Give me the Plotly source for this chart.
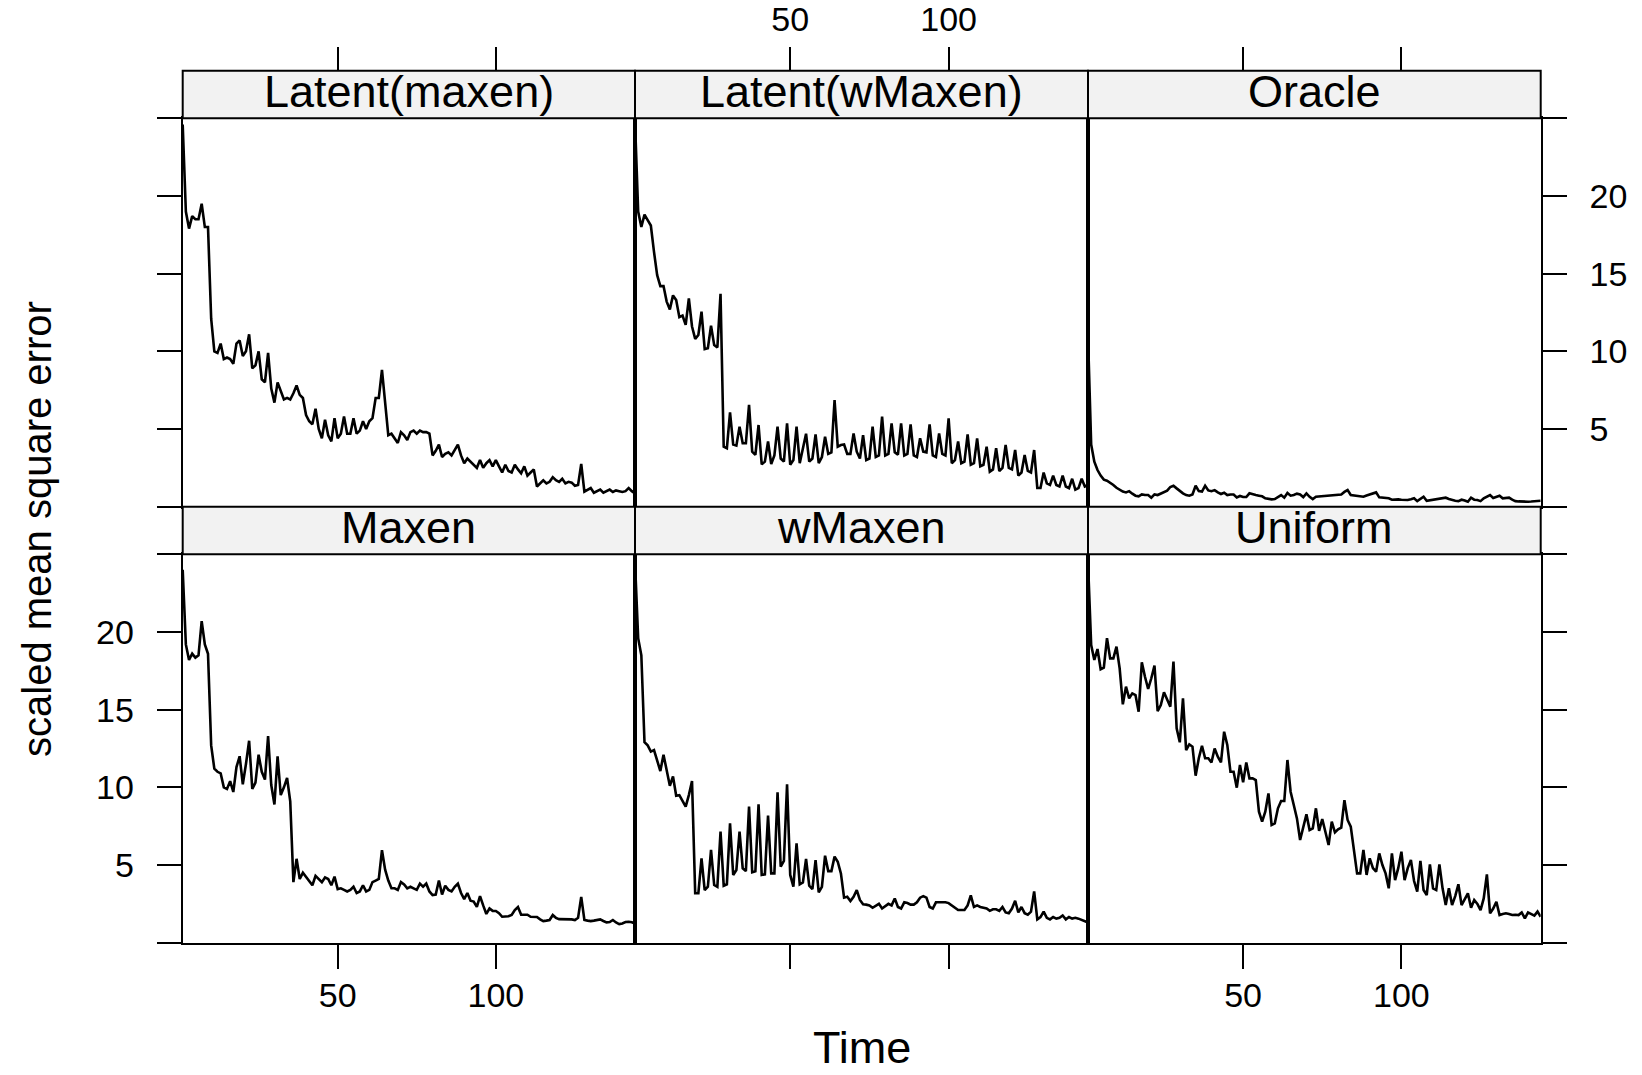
import plotly.graph_objects as go

# ---------------- data ----------------
time = list(range(1, 145))
panel_names = ["Latent(maxen)", "Latent(wMaxen)", "Oracle", "Maxen", "wMaxen", "Uniform"]

latent_maxen = [
    24.6, 19.0, 17.9, 18.7, 18.5, 18.5, 19.5, 18.0, 18.0, 12.1,
    10.0, 9.9, 10.5, 9.5, 9.6, 9.5, 9.2, 10.5, 10.7, 9.7,
    10.0, 11.1, 8.9, 9.1, 10.0, 8.2, 8.0, 9.9, 7.6, 6.7,
    8.0, 7.4, 6.9, 7.0, 6.9, 7.3, 7.8, 7.2, 7.0, 5.9,
    5.5, 5.3, 6.3, 5.0, 4.4, 5.6, 4.6, 4.2, 5.7, 4.4,
    4.7, 5.8, 4.7, 4.7, 5.7, 4.7, 4.9, 5.5, 5.0, 5.5,
    5.7, 7.0, 7.0, 8.8, 6.5, 4.6, 4.7, 4.4, 4.1, 4.8,
    4.6, 4.3, 4.8, 4.9, 4.7, 4.9, 4.8, 4.8, 4.7, 3.3,
    3.6, 4.0, 3.2, 3.4, 3.5, 3.3, 3.7, 4.0, 3.3, 2.8,
    3.1, 2.9, 2.7, 2.5, 3.0, 2.5, 2.8, 3.0, 2.6, 3.0,
    2.6, 2.2, 2.7, 2.3, 2.2, 2.7, 2.4, 2.15, 2.6, 2.0,
    2.2, 2.4, 1.3, 1.5, 1.7, 1.5, 1.6, 1.9, 1.7, 1.6,
    1.8, 1.5, 1.6, 1.55, 1.35, 1.4, 2.75, 0.97, 1.1, 1.2,
    0.9, 1.0, 1.1, 0.9, 1.0, 1.1, 0.95, 1.05, 1.0, 0.95,
    1.0, 1.2, 1.0, 0.85,
]

latent_wmaxen = [
    24.8, 19.0, 18.0, 18.8, 18.45, 18.1, 16.4, 14.9, 14.2, 14.2,
    13.2, 12.7, 13.6, 13.3, 12.2, 12.3, 11.7, 13.4, 11.6, 10.8,
    11.05, 12.55, 10.15, 10.2, 11.65, 10.4, 10.25, 13.7, 3.86, 3.76,
    6.07, 4.0, 3.93, 5.15, 4.08, 4.08, 6.55, 3.54, 3.33, 5.26,
    2.73, 2.9, 4.2, 2.75, 3.3, 5.15, 3.1, 2.9, 5.36, 2.7,
    3.0, 5.15, 2.8, 3.75, 4.7, 2.9, 3.1, 4.66, 2.8, 3.2,
    4.5, 3.4, 3.5, 6.87, 3.86, 3.97, 4.0, 3.4, 3.4, 4.72,
    3.54, 3.1, 4.6, 3.0, 3.1, 5.15, 3.2, 3.3, 5.8, 3.3,
    3.4, 5.36, 3.5, 3.35, 5.36, 3.3, 3.4, 5.3, 3.3, 3.2,
    4.4, 3.55, 3.5, 5.3, 3.3, 3.2, 4.72, 3.4, 3.3, 5.69,
    2.8, 3.0, 4.2, 2.8, 2.9, 4.66, 2.7, 2.8, 4.4, 2.6,
    2.7, 3.86, 2.25, 2.4, 3.76, 2.3, 2.5, 3.97, 2.5, 2.4,
    3.65, 2.0, 2.2, 3.33, 2.3, 2.2, 3.65, 1.2, 1.2, 2.2,
    1.5, 1.4, 2.0, 1.4, 1.3, 2.0, 1.3, 1.2, 1.8, 1.1,
    1.2, 1.8, 1.3, 1.4,
]

oracle = [
    11.0, 4.0, 2.9, 2.36, 2.0, 1.74, 1.67, 1.55, 1.4, 1.22,
    1.07, 0.97, 0.92, 1.0, 0.84, 0.71, 0.67, 0.79, 0.75, 0.75,
    0.58, 0.79, 0.75, 0.86, 0.97, 1.03, 1.27, 1.35, 1.18, 1.0,
    0.86, 0.75, 0.71, 0.79, 1.35, 1.0, 0.97, 1.35, 1.05, 1.0,
    1.07, 0.92, 0.82, 0.9, 0.75, 0.79, 0.79, 0.6, 0.69, 0.62,
    0.62, 0.86, 0.79, 0.75, 0.71, 0.67, 0.54, 0.49, 0.47, 0.49,
    0.62, 0.75, 0.58, 0.88, 0.71, 0.75, 0.84, 0.79, 0.62, 0.86,
    0.64, 0.49, 0.64, 0.66, 0.64, 0.66, 0.70, 0.71, 0.72, 0.75,
    0.79, 0.95, 1.07, 0.75, 0.73, 0.71, 0.66, 0.64, 0.72, 0.79,
    0.85, 0.92, 0.6, 0.58, 0.55, 0.54, 0.45, 0.47, 0.47, 0.45,
    0.44, 0.43, 0.48, 0.54, 0.36, 0.5, 0.64, 0.38, 0.42, 0.43,
    0.48, 0.54, 0.56, 0.58, 0.5, 0.43, 0.38, 0.36, 0.45, 0.4,
    0.32, 0.58, 0.45, 0.43, 0.36, 0.54, 0.66, 0.75, 0.56, 0.62,
    0.71, 0.54, 0.56, 0.58, 0.45, 0.36, 0.34, 0.32, 0.33, 0.32,
    0.33, 0.35, 0.36, 0.38,
]

maxen = [
    24.0, 19.2, 18.2, 18.6, 18.35, 18.5, 20.7, 19.2, 18.6, 12.7,
    11.2, 11.0, 10.9, 10.0, 9.9, 10.4, 9.7, 11.3, 12.0, 10.2,
    11.5, 13.0, 9.9, 10.3, 12.1, 11.0, 10.5, 13.3, 10.15, 8.9,
    12.0, 9.5, 10.0, 10.6, 9.1, 3.9, 5.4, 4.1, 4.5, 4.25,
    4.0, 3.7, 4.3, 4.1, 3.9, 4.2, 4.1, 3.7, 4.25, 3.45,
    3.5, 3.4, 3.3, 3.4, 3.6, 3.2, 3.3, 3.7, 3.3, 3.4,
    3.9, 4.0, 4.1, 5.95, 4.7, 4.0, 3.5, 3.5, 3.4, 3.9,
    3.75, 3.5, 3.6, 3.5, 3.4, 3.8, 3.6, 3.8, 3.3, 3.07,
    3.1, 4.0, 3.1, 3.67, 3.4, 3.3, 3.6, 3.8, 3.2, 2.8,
    3.2, 2.7, 2.65, 2.3, 3.0, 2.4, 1.85, 2.2, 2.05, 2.04,
    1.9, 1.67, 1.67, 1.7, 1.78, 2.1, 2.3, 1.8, 1.8, 1.8,
    1.67, 1.67, 1.65, 1.5, 1.39, 1.42, 1.46, 1.78, 1.6, 1.52,
    1.52, 1.52, 1.52, 1.5, 1.46, 1.6, 2.95, 1.46, 1.42, 1.39,
    1.42, 1.46, 1.5, 1.4, 1.31, 1.33, 1.46, 1.3, 1.2, 1.24,
    1.33, 1.35, 1.32, 1.24,
]

wmaxen = [
    24.5, 19.6, 18.5, 12.9, 12.7, 12.3, 12.4, 11.7, 11.05, 12.1,
    10.97, 10.1, 10.7, 9.46, 9.5, 9.1, 8.76, 9.5, 10.4, 3.18,
    3.18, 5.43, 3.39, 3.6, 5.97, 3.71, 3.6, 7.15, 3.67, 3.76,
    7.68, 4.36, 4.68, 7.15, 4.79, 4.61, 8.76, 4.53, 4.6, 8.9,
    4.36, 4.4, 8.18, 4.46, 4.46, 9.68, 4.89, 5.26, 10.19, 4.36,
    3.6, 6.39, 3.76, 3.88, 5.39, 3.67, 3.45, 5.32, 3.24, 3.6,
    5.6, 4.61, 4.61, 5.54, 5.21, 4.46, 2.9, 2.96, 2.68, 2.96,
    3.39, 2.75, 2.47, 2.45, 2.4, 2.25, 2.4, 2.5, 2.2, 2.35,
    2.5, 2.4, 2.85, 2.3, 2.2, 2.6, 2.55, 2.45, 2.45, 2.6,
    2.9, 3.0, 2.9, 2.3, 2.2, 2.6, 2.6, 2.6, 2.6, 2.55,
    2.4, 2.25, 2.1, 2.1, 2.1, 2.4, 3.05, 2.3, 2.4, 2.3,
    2.25, 2.2, 2.05, 2.15, 2.15, 2.05, 2.3, 1.95, 1.9, 2.2,
    2.7, 1.95, 2.3, 1.9, 1.8, 2.0, 3.3, 1.5, 1.65, 2.0,
    1.6, 1.5, 1.65, 1.55, 1.6, 1.75, 1.5, 1.65, 1.55, 1.6,
    1.55, 1.45, 1.38, 1.3,
]

uniform = [
    24.5, 19.16, 18.2, 18.9, 17.6, 17.7, 19.6, 18.3, 18.3, 19.06,
    17.66, 15.34, 16.48, 15.73, 16.05, 15.94, 14.87, 18.05, 17.12, 16.33,
    17.02, 17.83, 14.91, 15.3, 16.12, 15.69, 15.19, 18.09, 13.8, 12.9,
    15.73, 12.4, 12.77, 12.62, 10.75, 11.87, 12.68, 11.87, 11.87, 11.6,
    12.5, 11.97, 11.6, 13.58, 12.73, 11.0, 11.0, 9.98, 11.44, 10.32,
    11.6, 10.58, 10.58, 10.47, 8.43, 7.79, 8.43, 9.61, 7.58, 7.68,
    8.65, 9.12, 9.12, 11.76, 9.72, 8.86, 8.0, 6.61, 7.47, 8.26,
    7.25, 7.36, 8.65, 7.2, 7.96, 7.04, 6.29, 7.79, 7.1, 7.3,
    7.4, 9.18, 7.9, 7.47, 6.0, 4.46, 4.46, 5.97, 4.36, 5.43,
    4.8, 4.57, 5.75, 5.0, 4.46, 3.5, 5.75, 4.03, 4.8, 5.86,
    4.03, 4.8, 5.32, 3.97, 3.28, 5.26, 3.39, 3.07, 5.04, 3.5,
    3.39, 5.04, 3.5, 2.42, 3.5, 2.42, 3.0, 3.76, 2.42, 2.8,
    3.18, 2.25, 2.75, 2.5, 2.1, 2.85, 4.4, 1.89, 2.2, 2.64,
    1.78, 1.85, 1.89, 1.85, 1.78, 1.8, 1.78, 1.95, 1.57, 1.95,
    1.85, 1.74, 2.0, 1.67,
]

series = [latent_maxen, latent_wmaxen, oracle, maxen, wmaxen, uniform]

x_tick_vals = [50, 100]
y_tick_vals = [0, 5, 10, 15, 20, 25]
y_tick_text = ["", "5", "10", "15", "20", ""]
x_title = "Time"
y_title = "scaled mean square error"

# ---------------- layout geometry ----------------
W, H = 1642, 1075
col_px = [182.7, 635.0, 1088.0, 1540.7]
row_px = [(118.3, 506.7), (554.3, 942.7)]
strip_h = 47.6

FONT = "Liberation Sans, Arial, Helvetica, sans-serif"
TICK_FONT = dict(family=FONT, size=34, color="black")


def py(px):
    return 1 - px / H


fig = go.Figure()
layout = dict(
    width=W, height=H, autosize=False,
    margin=dict(l=0, r=0, t=0, b=0),
    paper_bgcolor="white", plot_bgcolor="white",
    showlegend=False,
    font=dict(family=FONT, color="black"),
)
shapes = []
annotations = []

for i, (name, vals) in enumerate(zip(panel_names, series)):
    r, c = divmod(i, 3)
    n = i + 1
    xa = "x" if n == 1 else f"x{n}"
    ya = "y" if n == 1 else f"y{n}"
    fig.add_trace(go.Scatter(
        x=time, y=vals, mode="lines", xaxis=xa, yaxis=ya,
        line=dict(color="black", width=2.6), hoverinfo="skip",
    ))
    top, bot = row_px[r]
    x0, x1 = col_px[c] / W, col_px[c + 1] / W
    layout[f"xaxis{n}"] = dict(
        domain=[x0, x1], anchor=ya, range=[1, 144],
        showline=True, mirror=True, linecolor="black", linewidth=2,
        showgrid=False, zeroline=False,
        tickmode="array", tickvals=x_tick_vals,
        ticks="outside" if r == 1 else "", ticklen=24, tickwidth=2, tickcolor="black",
        showticklabels=(r == 1 and c != 1), tickfont=TICK_FONT,
        ticklabelstandoff=-3,
    )
    yside = "right" if c == 2 else "left"
    layout[f"yaxis{n}"] = dict(
        domain=[py(bot), py(top)], anchor=xa, range=[0, 25],
        showline=True, mirror=True, linecolor="black", linewidth=2,
        showgrid=False, zeroline=False,
        tickmode="array", tickvals=y_tick_vals, ticktext=y_tick_text,
        ticks="outside" if c in (0, 2) else "", ticklen=24, tickwidth=2, tickcolor="black",
        side=yside,
        showticklabels=((c == 0 and r == 1) or (c == 2 and r == 0)),
        tickfont=TICK_FONT, ticklabelstandoff=16,
    )
    # strip
    shapes.append(dict(
        type="rect", xref="paper", yref="paper",
        x0=x0, x1=x1, y0=py(top), y1=py(top - strip_h),
        fillcolor="#f2f2f2", line=dict(color="black", width=2), layer="above",
    ))
    annotations.append(dict(
        text=name, xref="paper", yref="paper",
        x=(x0 + x1) / 2, y=py(top - strip_h / 2), xanchor="center", yanchor="middle",
        yshift=3,
        showarrow=False, font=dict(family=FONT, size=45, color="black"),
    ))

# top tick axes (above the top strips)
for c in range(3):
    n = 7 + c
    base = "x" if c == 0 else f"x{c + 1}"
    base_y = "y" if c == 0 else f"y{c + 1}"
    fig.add_trace(go.Scatter(x=[None], y=[None], xaxis=f"x{n}", yaxis=base_y,
                             mode="lines", hoverinfo="skip", showlegend=False))
    layout[f"xaxis{n}"] = dict(
        overlaying=base, anchor="free", position=py(row_px[0][0] - strip_h),
        side="top", range=[1, 144],
        showline=False, showgrid=False, zeroline=False,
        tickmode="array", tickvals=x_tick_vals,
        ticks="outside", ticklen=24, tickwidth=2, tickcolor="black",
        showticklabels=(c == 1), tickfont=TICK_FONT, ticklabelstandoff=2,
    )

annotations.append(dict(
    text=x_title, xref="paper", yref="paper",
    x=(col_px[0] + col_px[3]) / 2 / W, y=0, xanchor="center", yanchor="bottom",
    showarrow=False, font=dict(family=FONT, size=45, color="black"),
))
annotations.append(dict(
    text=y_title, xref="paper", yref="paper", textangle=-90,
    x=37 / W, y=py(529), xanchor="center", yanchor="middle",
    showarrow=False, font=dict(family=FONT, size=40, color="black"),
))

layout["shapes"] = shapes
layout["annotations"] = annotations
fig.update_layout(**layout)
fig.write_html("out.html")
